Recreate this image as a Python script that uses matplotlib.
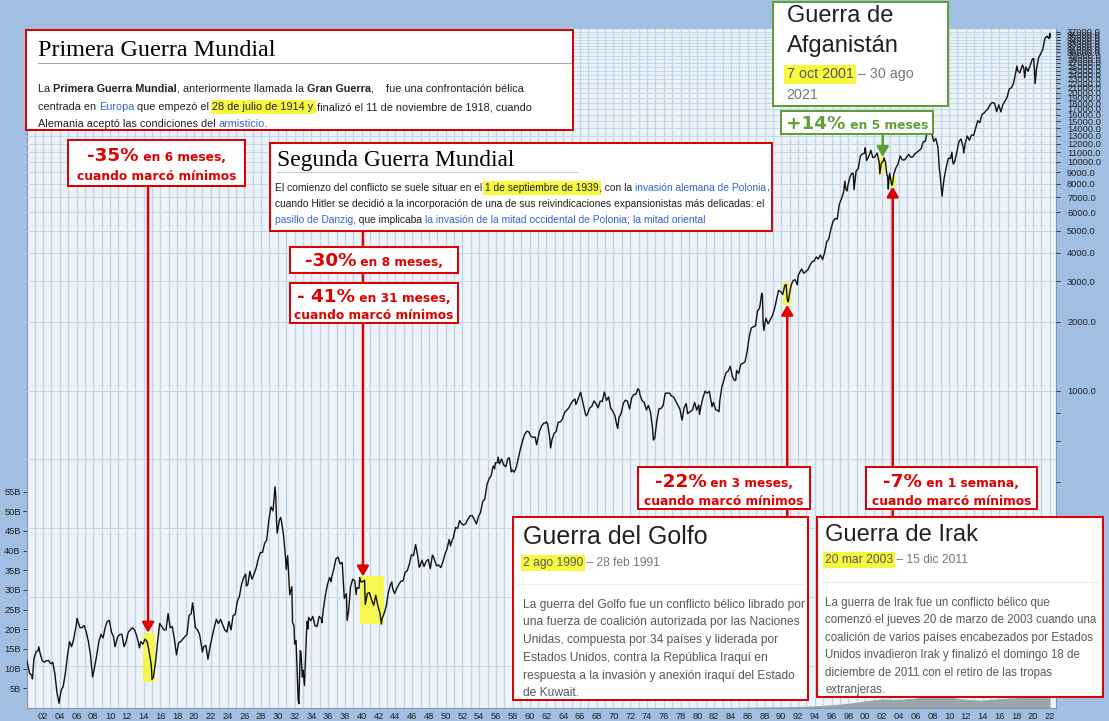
import numpy as np
import matplotlib
matplotlib.use("Agg")
import matplotlib.pyplot as plt
import matplotlib.transforms as mtransforms
from matplotlib.patches import Rectangle
from matplotlib.lines import Line2D
from matplotlib.ticker import FixedLocator, NullFormatter, FuncFormatter

plt.rcParams['font.family'] = 'Liberation Sans'

# ---------------- datos ----------------
# Dow Jones, cierre mensual aprox. en feb, may, ago, nov de cada anio (1900-2021)
anio_ini = 1900
meses_trim = [2, 5, 8, 11]
djia_trim = [
    64, 58, 57, 67,  72, 73, 71, 66,  65, 66, 66, 64,  65, 58, 48, 43,  49, 51, 58, 69,
    80, 76, 82, 92,  98, 92, 92, 94,  88, 80, 70, 56,  62, 70, 80, 86,  83, 92, 98, 99,
    88, 84, 78, 84,  86, 86, 76, 80,  88, 90, 92, 90,  85, 78, 80, 78,  82, 80, 72, 63,
    56, 65, 80, 96,  93, 90, 90, 106,  92, 93, 82, 70,  79, 80, 82, 84,  86, 104, 106, 112,
    92, 90, 86, 76,  76, 77, 67, 76,  84, 92, 100, 96,  100, 95, 90, 88,  98, 90, 104, 105,
    120, 126, 142, 152,  158, 142, 162, 150,  158, 168, 184, 196,  196, 215, 222, 270,  310, 298, 380, 238,
    270, 270, 235, 185,  190, 128, 139, 94,  81, 44.7, 73, 56,  51.4, 88, 102, 98.7,  103, 94, 93, 103,
    101, 110.6, 127.9, 142.3,  152.5, 153, 166, 184,  187, 174.7, 177.4, 123.5,  129.6, 107.7, 139.3, 149.8,
    147.3, 137.7, 136.7, 145.7,
    146.5, 116.2, 129.6, 131,  121.8, 115.3, 127.4, 114.7,  106.6, 100.9, 106.3, 114.5,  131, 142, 136.6, 129.6,
    136.3, 142.2, 146.9, 147.3,
    160.4, 163.1, 174.3, 191.5,  190.1, 212.5, 189.2, 169.8,  181.4, 170.1, 178.9, 183,  166.8, 190.7, 181.7, 171.2,
    173, 168.4, 178.7, 193,
    203.4, 223.4, 216.9, 227.6,  252, 249.7, 270.3, 261.3,  258.5, 262.9, 275, 283.7,  284.3, 272.3, 261.2, 281.4,
    294.5, 327.5, 335.8, 386.8,
    411.9, 424.9, 468.2, 483.3,  483.7, 478, 502, 472.8,  464.6, 504.9, 484.4, 449.9,  439.9, 462.7, 508.6, 557.5,
    603.5, 643.8, 664.4, 659.2,
    630.1, 625.5, 625.9, 597.2,  662.1, 696.7, 719.9, 721.6,  711, 613.4, 609.2, 649.3,  662.9, 726.9, 729.3, 750.5,
    800.1, 820.2, 838.5, 875.4,
    903.5, 918, 893.1, 946.7,  951.9, 864.3, 788.4, 791.6,  839.4, 852.6, 901.2, 875.8,  840.5, 899, 896, 985.1,
    905.2, 937.6, 836.7, 812.3,
    777.6, 700.4, 764.6, 794.1,  878.8, 907.8, 898.1, 831.3,  928.1, 960.7, 963.7, 1018.2,  955.1, 901.4, 887.6, 822.3,
    860.5, 802.2, 678.6, 618.7,
    739, 832.3, 835.3, 860.7,  972.6, 975.2, 973.7, 947.2,  936.4, 898.7, 861.5, 829.7,  742.1, 840.6, 876.8, 799,
    808.8, 822.3, 887.6, 822.4,
    863.1, 850.8, 932.6, 993.3,  974.6, 991.8, 881.5, 889,  824.4, 819.5, 901.3, 1039.3,  1113, 1199, 1216, 1276,
    1154, 1105, 1224, 1188,
    1300, 1315, 1334, 1472,  1709, 1876, 1898, 1914,  2224, 2292, 2663, 1834,  2071, 1956, 2032, 2115,
    2259, 2480, 2737, 2706,
    2628, 2877, 2614, 2560,  2882, 3028, 3044, 2895,  3267, 3397, 3257, 3305,  3371, 3528, 3651, 3684,
    3832, 3758, 3913, 3739,
    4011, 4465, 4611, 5075,  5486, 5643, 5616, 6522,  6877, 7331, 7622, 7823,  8546, 8900, 7539, 9117,
    9307, 10560, 10829, 10878,
    10128, 10522, 11215, 10415,  10495, 10912, 9950, 9852,  10106, 9925, 8664, 8896,  7891, 8850, 9416, 9782,
    10584, 10188, 10174, 10428,
    10766, 10467, 10482, 10806,  10993, 11168, 11381, 12222,  12268, 13628, 13358, 13372,  12266, 12638, 11544, 8829,
    7063, 8500, 9496, 10345,
    10325, 10137, 10015, 11006,  12226, 12570, 11614, 12046,  12952, 12393, 13091, 13026,  14054, 15116, 14810, 16086,
    16322, 16717, 17098, 17828,
    18133, 18011, 16528, 17720,  16517, 17787, 18401, 19124,  20812, 21009, 21948, 24272,  25029, 24416, 25965, 25538,
    25916, 24815, 26403, 28051,
    25409, 25383, 28430, 29639,  30932, 34529, 35361, 34484,
]

# maximos / minimos mensuales que no caen en los meses anteriores
ext_anio = [1900, 1900, 1901, 1906, 1910, 1913, 1914, 1919, 1920, 1926, 1929, 1929, 1929, 1930, 1930,
            1931, 1931, 1932, 1932, 1932, 1933, 1933, 1935, 1936, 1938, 1939, 1939, 1940, 1942, 1943,
            1946, 1948, 1950, 1955, 1956, 1957, 1957, 1960, 1961, 1962, 1965, 1966, 1966, 1970, 1973,
            1974, 1978, 1980, 1981, 1982, 1984, 1987, 1987, 1990, 1990, 1990, 1991, 1997, 1997, 1998,
            1999, 2000, 2001, 2002, 2002, 2002, 2002, 2003, 2007, 2008, 2009, 2010, 2010, 2011, 2018,
            2018, 2018, 2020, 2020, 2021, 2022]
ext_mes = [1, 9, 6, 1, 7, 6, 12, 10, 12, 3, 9, 10, 12, 4, 12,
           9, 12, 6, 9, 12, 6, 7, 3, 4, 3, 4, 9, 4, 4, 7,
           10, 6, 7, 10, 3, 7, 10, 10, 12, 6, 6, 1, 9, 6, 1,
           9, 10, 3, 9, 7, 7, 9, 10, 7, 9, 10, 12, 7, 10, 7,
           12, 1, 9, 3, 7, 9, 10, 3, 10, 10, 3, 4, 6, 9, 1,
           9, 12, 1, 3, 12, 1]
ext_valor = [66, 55, 76, 101, 76, 75, 54.6, 118, 72, 140, 343, 273, 248, 279, 165,
             96.6, 78, 42.8, 71.6, 60, 98.1, 90.8, 96.7, 145.7, 99, 128.4, 152.5, 148.4, 95.4, 145.8,
             169.2, 189.5, 209.4, 454.9, 511.8, 508.5, 441, 580.4, 731.1, 561.3, 868, 983.5, 774.2, 683.5, 999,
             607.9, 792.5, 785.8, 850, 808.6, 1115, 2596, 1994, 2905, 2453, 2442, 3169, 8223, 7442, 8883,
             11497, 10941, 8848, 10404, 8737, 7592, 8397, 7992, 13930, 9325, 7609, 11009, 9774, 10913, 26149,
             26458, 23327, 28256, 21917, 36338, 35132]

# volumen (miles de millones)
vol_anio = [1982, 1984, 1986, 1988, 1990, 1992, 1994, 1996, 1998, 2000, 2002, 2004,
            2006, 2008, 2010, 2012, 2014, 2016, 2018, 2020, 2022]
vol_b = [0.05, 0.1, 0.2, 0.25, 0.3, 0.4, 0.55, 0.8, 1.2, 1.8, 2.3, 2.2,
         2.5, 3.2, 2.8, 2.2, 2.0, 2.4, 2.6, 3.4, 2.8]

# zonas resaltadas: guerra mundial I, II, Golfo, Afganistan, Irak
res_t0 = [1913.93, 1939.79, 1990.24, 2001.56, 2002.75]
res_t1 = [1915.36, 1942.65, 1991.12, 2002.36, 2003.67]
res_v0 = [53, 95, 2370, 8890, 7780]
res_v1 = [87.5, 154, 2940, 10480, 8600]
flecha_t = [1914.53, 1940.14, 1990.71, 2002.09, 2003.28]

# ---------------- series ----------------
n_anios = len(djia_trim) // 4
t_trim = (anio_ini + np.repeat(np.arange(n_anios), 4) + np.tile(meses_trim, n_anios) / 12.0)
t_ext = np.array(ext_anio) + np.array(ext_mes) / 12.0
t = np.concatenate([t_trim, t_ext])
v = np.concatenate([np.array(djia_trim, float), np.array(ext_valor, float)])
orden = np.argsort(t)
t, v = t[orden], v[orden]

W, H = 1109, 721
fig = plt.figure(figsize=(W / 100, H / 100), dpi=100)
fig.patch.set_facecolor('#a0bfe3')


def fx(x):
    return x / W


def fy(y):
    return 1 - y / H


axv = fig.add_axes([fx(27), fy(708), (1056 - 27) / W, (708 - 29) / H])
axv.set_facecolor('#eef2f9')
axv.set_xlim(1900.1, 2022.74)
axv.set_ylim(0, 172.5)
for a in range(1901, 2023):
    axv.axvline(a, color='#b9d8ea', lw=0.9, zorder=0)
axv.fill_between(vol_anio, vol_b, color='#98a6ae', lw=0, zorder=1)
axv.set_yticks(range(5, 60, 5))
axv.set_yticklabels([f'{k}B' for k in range(5, 60, 5)])
axv.set_xticks(range(1902, 2023, 2))
axv.set_xticklabels([f'{a % 100:02d}' for a in range(1902, 2023, 2)])
axv.tick_params(axis='x', length=0, pad=3, labelsize=6.7, colors='#222222')
axv.tick_params(axis='y', length=3, pad=1.5, labelsize=6.7, colors='#222222', width=0.6)
for s in ['left', 'bottom', 'right']:
    axv.spines[s].set_color('#8497ab')
axv.spines['top'].set_visible(False)

axp = axv.twinx()
axp.set_yscale('log')
axp.set_ylim(41, 38000)
axp.yaxis.set_major_locator(FixedLocator(list(range(1000, 38000, 1000))))
axp.yaxis.set_minor_locator(FixedLocator([200, 400, 600, 800]))
axp.yaxis.set_major_formatter(FuncFormatter(lambda val, p: f'{val:.1f}'))
axp.yaxis.set_minor_formatter(NullFormatter())
axp.tick_params(axis='y', which='both', length=3, pad=5, labelsize=6.7, colors='#222222', width=0.6)
for s in axp.spines.values():
    s.set_visible(False)
for g in [62.5, 125, 250, 500] + list(range(1000, 38000, 1000)):
    axp.axhline(g, color='#c3daeb', lw=0.7, zorder=0)

AMARILLO = '#f8f83c'
ROJO = '#e00000'
VERDE = '#5f9f35'

for i in range(len(res_t0)):
    axp.add_patch(Rectangle((res_t0[i], res_v0[i]), res_t1[i] - res_t0[i], res_v1[i] - res_v0[i],
                            facecolor=AMARILLO, edgecolor='none', alpha=0.9, zorder=1))

axp.plot(t, v, color='#111111', lw=1.0, zorder=2)

# flechas: (indice de zona, y de partida en pixeles, hacia abajo?, color)
mezcla = mtransforms.blended_transform_factory(axp.transData, fig.transFigure)
flechas = [(0, 186, True, ROJO), (1, 231, True, ROJO), (2, 517, False, ROJO),
           (3, 134, True, VERDE), (4, 517, False, ROJO)]
for i, y0, abajo, col in flechas:
    punta = res_v1[i] if abajo else res_v0[i]
    axp.annotate('', xy=(flecha_t[i], punta), xycoords='data', xytext=(flecha_t[i], fy(y0)),
                 textcoords=mezcla, annotation_clip=False, zorder=3,
                 arrowprops=dict(arrowstyle='-|>,head_length=0.6,head_width=0.35', color=col,
                                 lw=1.8, shrinkA=0, shrinkB=0))

# ---------------- cajas de texto ----------------
renderer = fig.canvas.get_renderer()
GRANDE = 1.5


def caja(x0, y0, x1, y1, color, lw=2.0):
    fig.add_artist(Rectangle((fx(x0), fy(y1)), (x1 - x0) / W, (y1 - y0) / H, transform=fig.transFigure,
                             facecolor='white', edgecolor=color, linewidth=lw * 0.72, zorder=5))


def regla(x0, x1, y, color):
    fig.add_artist(Line2D([fx(x0), fx(x1)], [fy(y), fy(y)], transform=fig.transFigure,
                          color=color, lw=0.8, zorder=6))


def linea(x, y, partes, size, family='Liberation Sans', color='#202122', ha='left', dibujar=True):
    arts, avances = [], []
    for p in partes:
        txt, estilo = (p, '') if isinstance(p, str) else p
        kw = dict(fontsize=size, family=family, color=color, va='baseline', ha='left', zorder=7)
        if 'B' in estilo:
            kw['fontsize'] = size * GRANDE
        if 'b' in estilo:
            kw['fontweight'] = 'bold'
        if 'l' in estilo:
            kw['color'] = '#3366cc'
        if 'g' in estilo:
            kw['color'] = '#72777d'
        tx = fig.text(0, 0, txt, **kw)
        m = fig.text(0, 0, txt + '|', **kw)
        b = fig.text(0, 0, '|', **kw)
        avance = m.get_window_extent(renderer).width - b.get_window_extent(renderer).width
        m.remove()
        b.remove()
        if 'h' in estilo:
            tx.set_bbox(dict(facecolor=AMARILLO, edgecolor='none', pad=0.3 + 0.14 * size))
        arts.append(tx)
        avances.append(avance)
    total = sum(avances)
    x0 = x - total / 2 if ha == 'center' else x
    for tx, a in zip(arts, avances):
        tx.set_position((fx(x0), fy(y)))
        x0 += a
    if not dibujar:
        for tx in arts:
            tx.remove()
    return total


def ajustar(partes, ancho, **kw):
    return 10 * ancho / linea(0, 0, partes, 10, dibujar=False, **kw)


# Primera Guerra Mundial
caja(26, 30, 573, 130, ROJO)
tit = ['Primera Guerra Mundial']
linea(38, 56.5, tit, ajustar(tit, 238, family='Liberation Serif'), family='Liberation Serif', color='#000000')
regla(38, 571, 62.5, '#a2a9b1')
p1 = [['La ', ('Primera Guerra Mundial', 'b'), ', anteriormente llamada la ', ('Gran Guerra', 'b'),
       ',    fue una confrontación bélica'],
      ['centrada en ', ('Europa', 'l'), ' que empezó el ', ('28 de julio de 1914 y', 'h'),
       ' finalizó el 11 de noviembre de 1918, cuando'],
      ['Alemania aceptó las condiciones del ', ('armisticio', 'l'), '.']]
tam = ajustar(p1[0], 487)
for k, y in enumerate([91.5, 110, 127]):
    linea(38, y, p1[k], tam)

# Segunda Guerra Mundial
caja(270, 143, 772, 231, ROJO)
tit = ['Segunda Guerra Mundial']
linea(277, 166, tit, ajustar(tit, 238, family='Liberation Serif'), family='Liberation Serif', color='#000000')
regla(277, 577, 171.7, '#c8ccd1')
p2 = [['El comienzo del conflicto se suele situar en el ', ('1 de septiembre de 1939', 'h'), ', con la ',
       ('invasión alemana de Polonia', 'l'), ','],
      ['cuando Hitler se decidió a la incorporación de una de sus reivindicaciones expansionistas más delicadas: el'],
      [('pasillo de Danzig', 'l'), ', que implicaba ', ('la invasión de la mitad occidental de Polonia', 'l'),
       '; ', ('la mitad oriental', 'l')]]
tam = ajustar(p2[1], 489)
for k, y in enumerate([190.7, 206.7, 222.7]):
    linea(275, y, p2[k], tam)

# Guerra del Golfo
caja(513, 517, 808, 700, ROJO)
tit = ['Guerra del Golfo']
linea(522.7, 544, tit, ajustar(tit, 186))
fecha = [('2 ago 1990', 'h'), (' – 28 feb 1991', 'g')]
tam_fecha = ajustar(fecha, 137)
linea(522.7, 565.7, fecha, tam_fecha, color='#54595d')
regla(517, 804, 584, '#eaecf0')
golfo = ['La guerra del Golfo fue un conflicto bélico librado por',
         'una fuerza de coalición autorizada por las Naciones',
         'Unidas, compuesta por 34 países y liderada por',
         'Estados Unidos, contra la República Iraquí en',
         'respuesta a la invasión y anexión iraquí del Estado',
         'de Kuwait.']
tam = ajustar([golfo[0]], 283)
for k, y in enumerate([607.7, 625.5, 643, 661, 678.5, 696]):
    linea(522.7, y, [golfo[k]], tam, color='#54595d')

# Guerra de Irak
caja(817, 517, 1103, 697, ROJO)
tit = ['Guerra de Irak']
linea(825, 541, tit, ajustar(tit, 154))
linea(825, 563.3, [('20 mar 2003', 'h'), (' – 15 dic 2011', 'g')], tam_fecha, color='#54595d')
regla(822, 1098, 581.7, '#eaecf0')
irak = ['La guerra de Irak fue un conflicto bélico que',
        'comenzó el jueves 20 de marzo de 2003 cuando una',
        'coalición de varios países encabezados por Estados',
        'Unidos invadieron Irak y finalizó el domingo 18 de',
        'diciembre de 2011 con el retiro de las tropas',
        'extranjeras.']
tam = ajustar([irak[1]], 272)
for k, y in enumerate([605.7, 623.3, 640.7, 658.3, 676, 693.3]):
    linea(825, y, [irak[k]], tam, color='#54595d')

# Guerra de Afganistan
caja(773, 2, 948, 106, VERDE)
tam = ajustar(['Afganistán'], 112)
linea(786.7, 22, ['Guerra de'], tam)
linea(786.7, 51.7, ['Afganistán'], tam)
fecha = [('7 oct 2001', 'h'), (' – 30 ago', 'g')]
tam = ajustar(fecha, 126)
linea(786.7, 78.3, fecha, tam, color='#54595d')
linea(786.7, 99, [('2021', 'g')], tam)

# etiquetas de caidas / subidas
tam = ajustar([('cuando marcó mínimos', 'b')], 160, family='DejaVu Sans')
etiquetas = [
    ((68, 140, 245, 186), ROJO, [[('-35%', 'bB'), (' en 6 meses,', 'b')], [('cuando marcó mínimos', 'b')]], [161, 180]),
    ((290, 247, 458, 273), ROJO, [[('-30%', 'bB'), (' en 8 meses,', 'b')]], [266]),
    ((290, 283, 458, 323), ROJO, [[('- 41%', 'bB'), (' en 31 meses,', 'b')], [('cuando marcó mínimos', 'b')]], [302, 319]),
    ((638, 467, 810, 509), ROJO, [[('-22%', 'bB'), (' en 3 meses,', 'b')], [('cuando marcó mínimos', 'b')]], [487, 505]),
    ((866, 467, 1037, 509), ROJO, [[('-7%', 'bB'), (' en 1 semana,', 'b')], [('cuando marcó mínimos', 'b')]], [487, 505]),
    ((781, 111, 933, 134), VERDE, [[('+14%', 'bB'), (' en 5 meses', 'b')]], [129]),
]
for (x0, y0, x1, y1), col, lineas, ys in etiquetas:
    caja(x0, y0, x1, y1, col)
    for partes, y in zip(lineas, ys):
        linea((x0 + x1) / 2, y, partes, tam, family='DejaVu Sans', color=col, ha='center')

fig.savefig('out.png', dpi=100, facecolor=fig.get_facecolor())
